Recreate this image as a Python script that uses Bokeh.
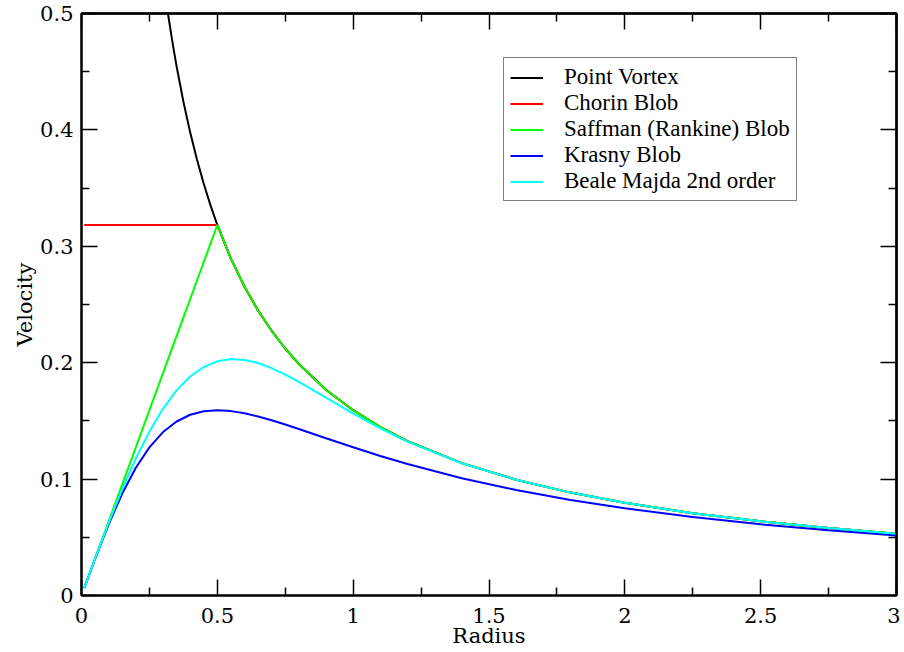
from bokeh.plotting import figure
from bokeh.models import Range1d, FixedTicker, LinearAxis, Legend, LegendItem
from bokeh.embed import file_html
from bokeh.resources import INLINE

# ---- data ----
R = [0.01, 0.05, 0.1, 0.15, 0.2, 0.25, 0.3, 0.35, 0.4, 0.45, 0.5, 0.55, 0.6, 0.65,
     0.7, 0.75, 0.8, 0.9, 1.0, 1.1, 1.2, 1.4, 1.6, 1.8, 2.0, 2.25, 2.5, 2.75, 3.0]

R_POINT = [0.31, 0.32, 0.33, 0.34, 0.35, 0.375, 0.4, 0.425, 0.45, 0.475, 0.5, 0.55,
           0.6, 0.65, 0.7, 0.75, 0.8, 0.9, 1.0, 1.1, 1.2, 1.4, 1.6, 1.8, 2.0, 2.25,
           2.5, 2.75, 3.0]
V_POINT = [0.5134, 0.4974, 0.4823, 0.4681, 0.4547, 0.4244, 0.3979, 0.3745, 0.3537,
           0.3351, 0.3183, 0.2894, 0.2653, 0.2449, 0.2274, 0.2122, 0.1989, 0.1768,
           0.1592, 0.1447, 0.1326, 0.1137, 0.0995, 0.0884, 0.0796, 0.0707, 0.0637,
           0.0579, 0.0531]

R_CHORIN = [0.01, 0.5, 0.55, 0.6, 0.65, 0.7, 0.75, 0.8, 0.9, 1.0, 1.1, 1.2, 1.4,
            1.6, 1.8, 2.0, 2.25, 2.5, 2.75, 3.0]
V_CHORIN = [0.3183, 0.3183, 0.2894, 0.2653, 0.2449, 0.2274, 0.2122, 0.1989, 0.1768,
            0.1592, 0.1447, 0.1326, 0.1137, 0.0995, 0.0884, 0.0796, 0.0707, 0.0637,
            0.0579, 0.0531]

V_SAFFMAN = [0.0064, 0.0318, 0.0637, 0.0955, 0.1273, 0.1592, 0.1910, 0.2228, 0.2546,
             0.2865, 0.3183, 0.2894, 0.2653, 0.2449, 0.2274, 0.2122, 0.1989, 0.1768,
             0.1592, 0.1447, 0.1326, 0.1137, 0.0995, 0.0884, 0.0796, 0.0707, 0.0637,
             0.0579, 0.0531]

V_KRASNY = [0.0064, 0.0315, 0.0612, 0.0876, 0.1098, 0.1273, 0.1404, 0.1495, 0.1553,
            0.1583, 0.1592, 0.1584, 0.1566, 0.1538, 0.1506, 0.1469, 0.1431, 0.1351,
            0.1273, 0.1199, 0.1130, 0.1008, 0.0906, 0.0821, 0.0749, 0.0674, 0.0612,
            0.0560, 0.0516]

V_BEALE = [0.0064, 0.0317, 0.0624, 0.0913, 0.1177, 0.1408, 0.1604, 0.1762, 0.1881,
           0.1963, 0.2012, 0.2031, 0.2024, 0.1997, 0.1953, 0.1898, 0.1836, 0.1699,
           0.1562, 0.1435, 0.1322, 0.1136, 0.0995, 0.0884, 0.0796, 0.0707, 0.0637,
           0.0579, 0.0531]

SERIES_NAMES = ["Point Vortex", "Chorin Blob", "Saffman (Rankine) Blob",
                "Krasny Blob", "Beale Majda 2nd order"]
SERIES_COLORS = ["#000000", "#ff0000", "#00ff00", "#0000ff", "#00ffff"]

X_TICKS = [0, 0.5, 1, 1.5, 2, 2.5, 3]
X_TICK_LABELS = ["0", "0.5", "1", "1.5", "2", "2.5", "3"]
X_MINOR = [0.25, 0.75, 1.25, 1.75, 2.25, 2.75]
Y_TICKS = [0, 0.1, 0.2, 0.3, 0.4, 0.5]
Y_TICK_LABELS = ["0", "0.1", "0.2", "0.3", "0.4", "0.5"]
Y_MINOR = [0.05, 0.15, 0.25, 0.35, 0.45]

AXIS_FONT = "DejaVu Serif"
LEGEND_FONT = "Liberation Serif, Times, DejaVu Serif, serif"

p = figure(width=900, height=650, output_backend="svg", toolbar_location=None,
           x_range=Range1d(0, 3), y_range=Range1d(0, 0.5),
           x_axis_location=None, y_axis_location=None,
           min_border_left=81, min_border_right=4, min_border_top=13,
           min_border_bottom=53)
p.grid.visible = False
p.outline_line_color = "black"
p.outline_line_width = 2
p.background_fill_color = "white"
p.border_fill_color = "white"


def style_ticks(ax, major_len, minor_len):
    ax.major_tick_in = major_len
    ax.major_tick_out = 0
    ax.minor_tick_in = minor_len
    ax.minor_tick_out = 0
    ax.major_tick_line_width = 1.5
    ax.minor_tick_line_width = 1.5
    ax.axis_line_width = 2
    ax.major_tick_line_color = "black"
    ax.minor_tick_line_color = "black"
    ax.axis_line_color = "black"


def labelled_axis(ticks, minor, labels, title, tick_standoff, title_standoff):
    ax = LinearAxis(ticker=FixedTicker(ticks=ticks, minor_ticks=minor))
    style_ticks(ax, 16, 8)
    ax.major_label_overrides = {t: l for t, l in zip(ticks, labels)}
    ax.major_label_text_font = AXIS_FONT
    ax.major_label_text_font_size = "21px"
    ax.major_label_text_color = "black"
    ax.major_label_standoff = tick_standoff
    ax.axis_label = title
    ax.axis_label_text_font = AXIS_FONT
    ax.axis_label_text_font_size = "21px"
    ax.axis_label_text_font_style = "normal"
    ax.axis_label_text_color = "black"
    ax.axis_label_standoff = title_standoff
    return ax


def bare_axis(positions, length):
    # ticks only (no labels): drawn as minor ticks of an axis with no major ticks
    ax = LinearAxis(ticker=FixedTicker(ticks=[], minor_ticks=positions))
    style_ticks(ax, 0, length)
    ax.major_label_standoff = 0
    return ax


p.add_layout(labelled_axis(X_TICKS, X_MINOR, X_TICK_LABELS, "Radius", 12, -2), "below")
p.add_layout(labelled_axis(Y_TICKS, Y_MINOR, Y_TICK_LABELS, "Velocity", 8, 0), "left")
p.add_layout(bare_axis(X_TICKS, 16), "above")
p.add_layout(bare_axis(X_MINOR, 8), "above")
p.add_layout(bare_axis(Y_TICKS, 16), "right")
p.add_layout(bare_axis(Y_MINOR, 8), "right")

xs = [R_POINT, R_CHORIN, R, R, R]
ys = [V_POINT, V_CHORIN, V_SAFFMAN, V_KRASNY, V_BEALE]
renderers = [p.line(x, y, line_color=c, line_width=2)
             for x, y, c in zip(xs, ys, SERIES_COLORS)]

items = [LegendItem(label=n, renderers=[r]) for n, r in zip(SERIES_NAMES, renderers)]
legend = Legend(items=items, location=(422, 394))
legend.label_text_font = LEGEND_FONT
legend.label_text_font_size = "23px"
legend.label_text_color = "black"
legend.glyph_width = 33
legend.glyph_height = 25
legend.label_height = 25
legend.label_standoff = 21
legend.padding = 6
legend.spacing = 0
legend.margin = 0
legend.border_line_color = "black"
legend.border_line_width = 1.5
legend.background_fill_alpha = 1
p.add_layout(legend, "center")

open("out.html", "w").write(file_html(p, INLINE))
